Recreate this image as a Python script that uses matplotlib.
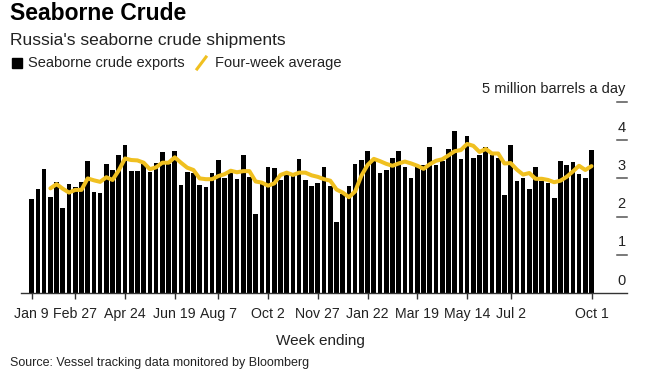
import matplotlib
matplotlib.use('Agg')
import matplotlib.pyplot as plt
import matplotlib.transforms as mtransforms
import numpy as np
import pandas as pd

plt.rcParams['font.family'] = ['Liberation Sans', 'DejaVu Sans']

# --------------------------
# DATA (million barrels a day)
# --------------------------
weeks = pd.date_range('2022-01-09', periods=91, freq='W-SUN')

exports = [
    2.46, 2.73, 3.25, 2.51, 2.91, 2.24, 2.85, 2.78, 2.91, 3.46,
    2.65, 2.62, 3.37, 3.21, 3.62, 3.87, 3.20, 3.20, 3.38, 3.18,
    3.40, 3.69, 3.38, 3.72, 2.84, 3.18, 3.15, 2.82, 2.78, 3.15,
    3.48, 3.02, 3.14, 2.98, 3.62, 3.03, 2.06, 2.85, 3.29, 3.27,
    2.95, 3.08, 3.07, 3.51, 2.95, 2.80, 2.89, 3.29, 2.79, 1.85,
    2.60, 2.80, 3.38, 3.48, 3.72, 3.46, 3.13, 3.21, 3.52, 3.71,
    3.31, 3.00, 3.31, 3.36, 3.81, 3.36, 3.46, 3.77, 4.23, 3.51,
    4.10, 3.54, 3.62, 3.83, 3.62, 3.54, 2.57, 3.87, 2.93, 3.02,
    2.72, 3.30, 2.93, 2.87, 2.50, 3.45, 3.34, 3.42, 3.12, 3.00,
    3.74,
]

# four-week average, starts with the 4th week
avg4 = [
    2.74, 2.85, 2.73, 2.63, 2.70, 2.70, 3.00, 2.95, 2.91, 3.03,
    2.96, 3.21, 3.52, 3.48, 3.47, 3.41, 3.24, 3.29, 3.41, 3.41,
    3.55, 3.41, 3.28, 3.22, 3.00, 2.98, 2.98, 3.06, 3.11, 3.20,
    3.16, 3.19, 3.19, 2.92, 2.89, 2.81, 2.87, 3.09, 3.15, 3.09,
    3.15, 3.15, 3.08, 3.04, 2.98, 2.94, 2.71, 2.63, 2.51, 2.66,
    3.07, 3.35, 3.51, 3.45, 3.38, 3.33, 3.39, 3.44, 3.39, 3.33,
    3.25, 3.37, 3.46, 3.50, 3.60, 3.71, 3.74, 3.90, 3.85, 3.69,
    3.77, 3.65, 3.65, 3.39, 3.40, 3.23, 3.10, 3.14, 2.99, 2.99,
    2.96, 2.90, 2.94, 3.04, 3.18, 3.33, 3.22, 3.32,
]

tick_dates = ['2022-01-09', '2022-02-27', '2022-04-24', '2022-06-19', '2022-08-07',
              '2022-10-02', '2022-11-27', '2023-01-22', '2023-03-19', '2023-05-14',
              '2023-07-02', '2023-10-01']
tick_labels = ['Jan 9', 'Feb 27', 'Apr 24', 'Jun 19', 'Aug 7', 'Oct 2', 'Nov 27',
               'Jan 22', 'Mar 19', 'May 14', 'Jul 2', 'Oct 1']
y_ticks = [0, 1, 2, 3, 4, 5]

c_bar = '#000000'
c_line = '#f0c020'
c_text = '#222222'

# --------------------------
# FIGURE
# --------------------------
W, H = 647, 388
fig = plt.figure(figsize=(W / 100, H / 100), dpi=100)

x = np.arange(len(weeks))
x_avg = x[3:]

ax_left, ax_right = 21, 627
base_px, unit_px = 293.3, 38.3
ymax = 5.2
ax = fig.add_axes([ax_left / W, (H - base_px) / H,
                   (ax_right - ax_left) / W, ymax * unit_px / H])

ax.bar(x, exports, width=0.75, color=c_bar, zorder=2)
ax.plot(x_avg, avg4, color=c_line, lw=2.9, solid_joinstyle='round',
        solid_capstyle='round', zorder=3)

step = 6.22
ax.set_xlim(-(31.7 - ax_left) / step, (ax_right - 31.7) / step)
ax.set_ylim(0, ymax)

for s in ['top', 'left', 'right']:
    ax.spines[s].set_visible(False)
ax.spines['bottom'].set_color('#333333')
ax.spines['bottom'].set_linewidth(1.0)

pos = weeks.get_indexer(pd.to_datetime(tick_dates))
ax.set_xticks(pos)
ax.set_xticklabels(tick_labels, fontsize=10.2, color=c_text)
ax.tick_params(axis='x', direction='out', length=4, width=1, color='#333333', pad=6)

# y ticks: short dashes on the right with labels sitting above them
ax.set_yticks([])
trans = mtransforms.blended_transform_factory(ax.transAxes, ax.transData)
for v in y_ticks:
    if v > 0:
        ax.plot([0.983, 1.0], [v, v], transform=trans, color='#555555', lw=1.1,
                clip_on=False)
    lab = '5 million barrels a day' if v == 5 else str(v)
    ax.annotate(lab, xy=(0.998, v), xycoords=trans, xytext=(0, 4),
                textcoords='offset points', ha='right', va='bottom',
                fontsize=10.5, color=c_text)

# titles and legend
fig.text(10 / W, 1 - 13 / H, 'Seaborne Crude', fontsize=16.5, fontweight='bold',
         va='center', ha='left', color='#000000')
fig.text(10 / W, 1 - 40 / H, "Russia's seaborne crude shipments", fontsize=12.5,
         va='center', ha='left', color=c_text)

fig.patches.append(plt.Rectangle((12 / W, 1 - 68 / H), 10 / W, 10 / H,
                                 transform=fig.transFigure, color=c_bar))
fig.text(28 / W, 1 - 63 / H, 'Seaborne crude exports', fontsize=10.5,
         va='center', ha='left', color=c_text)
fig.lines.append(plt.Line2D([197 / W, 206 / W], [1 - 69 / H, 1 - 57 / H],
                            transform=fig.transFigure, color=c_line, lw=2.2))
fig.text(215 / W, 1 - 63 / H, 'Four-week average', fontsize=10.5,
         va='center', ha='left', color=c_text)

fig.text(320 / W, 1 - 341 / H, 'Week ending', fontsize=11, va='center',
         ha='center', color=c_text)
fig.text(10 / W, 1 - 363 / H, 'Source: Vessel tracking data monitored by Bloomberg',
         fontsize=9, va='center', ha='left', color=c_text)

fig.savefig('out.png', dpi=100)
